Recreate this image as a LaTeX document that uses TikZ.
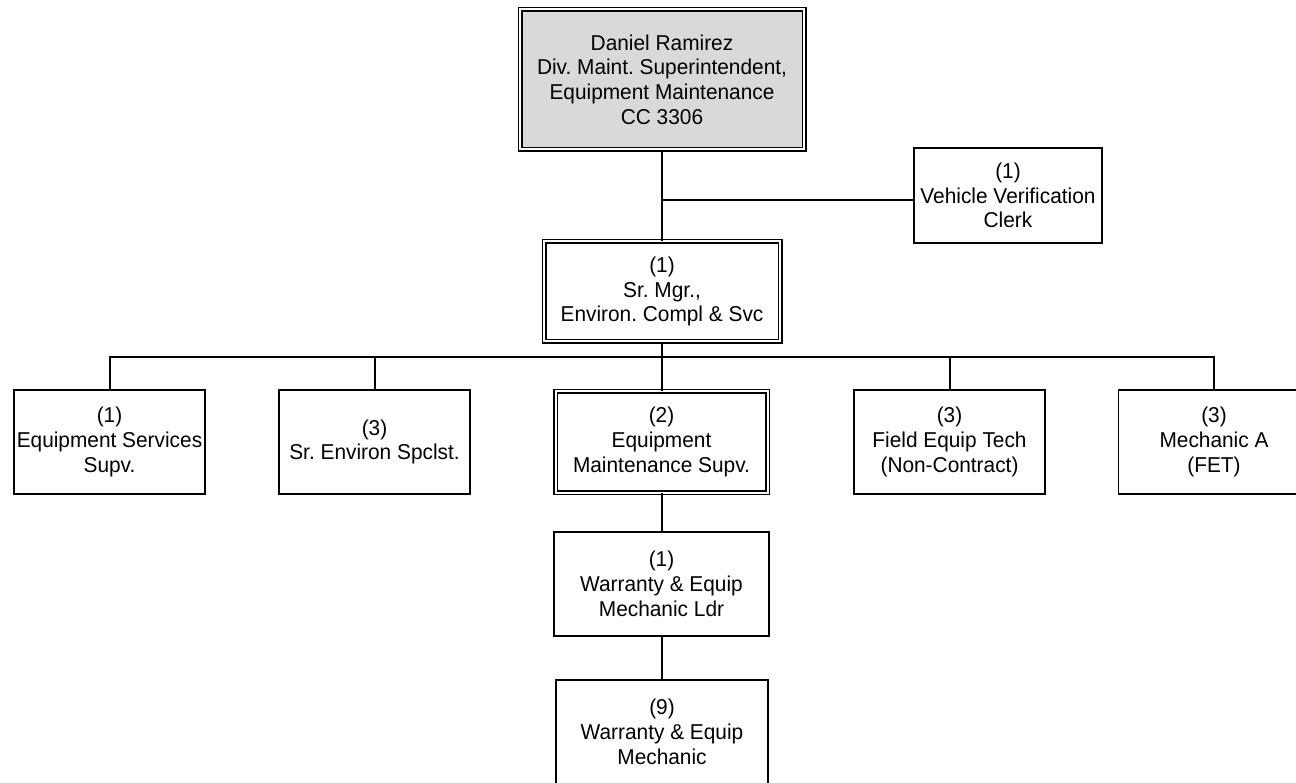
\documentclass[tikz,border=0pt]{standalone}
\usepackage{fontspec}
\setmainfont{Liberation Sans}[FakeStretch=0.97]
\usepackage{tikz}
\usetikzlibrary{positioning}
\usepackage{xcolor}
\frenchspacing

\definecolor{chiefgray}{HTML}{D9D9D9}
\tikzset{
    post/.style={draw, line width=1.8pt, align=center, inner sep=0pt,
        font=\fontsize{21.5}{24.7}\selectfont},
    dblpost/.style={post, double, double distance=2pt, line width=1.5pt},
    link/.style={line width=2pt},
}

\begin{document}
\begin{tikzpicture}[x=1pt, y=-1pt]
            \clip (0,0) rectangle (1296,783);
            \fill[white] (0,0) rectangle (1296,783);
            % top of the chart
            \node[dblpost, fill=chiefgray, minimum width=284pt, minimum height=140pt] (chief) at (662,79.5) {Daniel Ramirez\\Div. Maint. Superintendent,\\Equipment Maintenance\\CC 3306};
            \node[post, minimum width=188.2pt, minimum height=95.2pt] (clerk) at (1008,195.5) {(1)\\Vehicle Verification\\Clerk};
            \node[dblpost, minimum width=236pt, minimum height=100pt] (srmgr) at (662,291.5) {(1)\\Sr. Mgr.,\\Environ. Compl \& Svc};
            % second row
            \node[post, minimum width=191.2pt, minimum height=104.2pt] (eqsvc) at (109.5,442) {(1)\\Equipment Services\\Supv.};
            \node[post, minimum width=191.2pt, minimum height=104.2pt] (envspc) at (374.5,442) {(3)\\Sr. Environ Spclst.};
            \node[dblpost, minimum width=212pt, minimum height=101pt] (eqmaint) at (661.5,442) {(2)\\Equipment\\Maintenance Supv.};
            \node[post, minimum width=191.2pt, minimum height=104.2pt] (fieldtech) at (949.5,442) {(3)\\Field Equip Tech\\(Non-Contract)};
            \node[post, minimum width=191.2pt, minimum height=104.2pt] (mechA) at (1214,442) {(3)\\Mechanic A\\(FET)};
            % under the maintenance supervisor
            \node[post, minimum width=215.2pt, minimum height=104.2pt] (wmldr) at (661.5,584) {(1)\\Warranty \& Equip\\Mechanic Ldr};
            \node[post, minimum width=212.2pt, minimum height=104.2pt] (wmech) at (662,732) {(9)\\Warranty \& Equip\\Mechanic};
            % connectors
            \coordinate (tap) at (662,200);
            \coordinate (bar) at (662,357);
            \draw[link] (chief.south) -- (chief.south |- srmgr.north);
            \draw[link] (tap) -- (tap -| clerk.west);
            \draw[link] (srmgr.south) -- (bar);
            \draw[link] (eqsvc.north) |- (bar) -| (mechA.north);
            \foreach \n in {envspc, eqmaint, fieldtech}
                \draw[link] (\n.north) -- (\n.north |- bar);
            \draw[link] (eqmaint.south) -- (eqmaint.south |- wmldr.north);
            \draw[link] (wmldr.south) -- (wmldr.south |- wmech.north);
        \end{tikzpicture}
\end{document}
